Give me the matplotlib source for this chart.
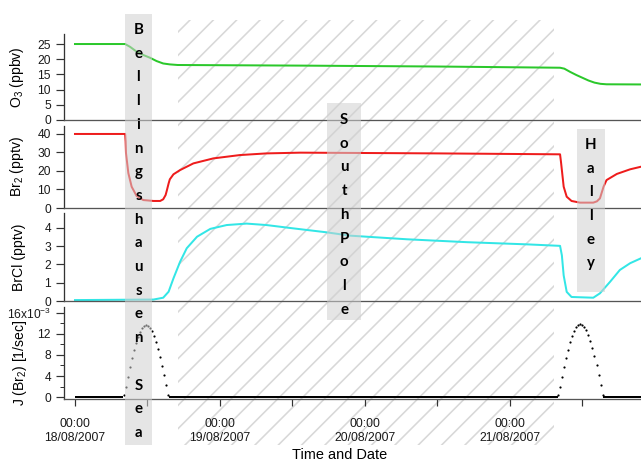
import matplotlib
matplotlib.use("Agg")
import matplotlib.pyplot as plt
import matplotlib.transforms as mtransforms
from matplotlib.patches import Rectangle
from matplotlib.ticker import MultipleLocator
import numpy as np

# ── Data (x = hours since 18/08/2007 00:00) ──────────────────────────────────
o3_t = [0, 8.3, 9.1, 10.2, 11.3, 12.4, 13.5, 14.6, 15.7, 17.0, 37.3, 60.0,
        80.3, 81.0, 82.0, 83.0, 84.0, 85.0, 86.0, 87.0, 88.0, 93.7]
o3 = [25.0, 25.0, 24.1, 22.5, 21.4, 20.5, 19.4, 18.6, 18.3, 18.1, 17.9, 17.6,
      17.2, 16.9, 15.8, 14.8, 13.9, 13.0, 12.3, 11.9, 11.75, 11.7]

br2_t = [0, 8.3, 8.38, 8.44, 8.83, 9.38, 10.2, 11.3, 13.0, 14.1, 14.6, 15.0,
         15.2, 15.5, 15.7, 16.3, 17.4, 19.6, 22.9, 27.3, 31.7, 37.3, 60.0,
         80.3, 80.45, 80.6, 80.9, 81.4, 82.2, 83.6, 85.8, 86.4, 86.9, 87.5,
         88.0, 89.7, 91.9, 93.7]
br2 = [40.0, 40.0, 36.0, 29.7, 18.9, 11.5, 6.5, 4.3, 3.8, 3.8, 4.7, 7.0,
       9.4, 13.3, 15.5, 18.2, 20.5, 24.1, 26.8, 28.6, 29.5, 29.9, 29.5,
       29.0, 25.0, 20.5, 11.5, 6.1, 3.8, 2.9, 2.9, 3.6, 5.2, 11.5,
       15.1, 18.4, 20.9, 22.3]

brcl_t = [0, 13.0, 14.6, 15.5, 16.3, 17.4, 18.5, 20.2, 22.4, 25.1, 28.4,
          31.7, 36.1, 41.7, 45.5, 55.0, 65.0, 75.0, 80.3, 80.6, 80.9, 81.4,
          82.2, 85.8, 86.9, 88.6, 90.2, 91.9, 93.7]
brcl = [0.05, 0.08, 0.18, 0.51, 1.24, 2.15, 2.89, 3.52, 3.95, 4.16, 4.24,
        4.16, 3.98, 3.76, 3.58, 3.38, 3.22, 3.10, 3.02, 2.5, 1.4, 0.5,
        0.22, 0.18, 0.42, 1.06, 1.7, 2.07, 2.34]

# J(Br2) in units of 1e-3 s^-1, sampled every 20 min during daylight
j_step = 1.0 / 3.0
j_day_start = [8.1, 80.0]
j_day1 = [0.3, 1.93, 3.83, 5.64, 7.35, 8.90, 10.29, 11.46, 12.40, 13.10, 13.53,
          13.70, 13.59, 13.21, 12.56, 11.66, 10.53, 9.19, 7.68, 5.99, 4.20,
          2.32, 0.39]
j_day2 = [0.3, 1.96, 3.89, 5.72, 7.46, 9.03, 10.44, 11.63, 12.58, 13.29, 13.73,
          13.90, 13.79, 13.40, 12.74, 11.83, 10.68, 9.32, 7.79, 6.08, 4.26,
          2.35, 0.4]
night_start = [0, 15.5, 87.4]
night_end = [8.0, 79.9, 93.7]

# Locations
region_names = ["Bellingshausen Sea", "SouthPole", "Halley"]
region_start = [8.3, 41.7, 83.1]
region_end = [12.7, 47.4, 87.7]
transit_start, transit_end = 17.0, 79.3   # hatched span

tick_hours = [0, 24, 48, 72]
tick_labels = ["00:00\n18/08/2007", "00:00\n19/08/2007",
               "00:00\n20/08/2007", "00:00\n21/08/2007"]

# ── Plot ─────────────────────────────────────────────────────────────────────
DPI = 70
PT = 72.0 / DPI  # points per pixel
W, H = 641, 464

plt.rcParams["font.family"] = ["Liberation Sans", "DejaVu Sans"]
plt.rcParams["hatch.linewidth"] = 1.6 * PT
plt.rcParams["mathtext.fontset"] = "custom"
plt.rcParams["mathtext.rm"] = "Liberation Sans"

fig = plt.figure(figsize=(W / DPI, H / DPI), dpi=DPI)


def add_panel(top, bottom):
    return fig.add_axes([64 / W, (H - bottom) / H, (W - 64) / W, (bottom - top) / H])


panels = [(34, 120), (126, 208), (213, 301), (307, 399)]
axes = [add_panel(t, b) for t, b in panels]
ax_o3, ax_br2, ax_brcl, ax_j = axes

fs = 12 * PT
lfs = 14 * PT
for ax in axes:
    ax.set_facecolor("none")
    ax.set_xlim(-1.82, 93.7)
    ax.spines["top"].set_visible(False)
    ax.spines["right"].set_visible(False)
    ax.spines["left"].set_color("#333333")
    ax.spines["left"].set_linewidth(1.3 * PT)
    ax.spines["bottom"].set_color("#555555")
    ax.spines["bottom"].set_linewidth(1.3 * PT)
    ax.tick_params(axis="y", direction="out", length=8 * PT, width=1.2 * PT,
                   colors="#333333", labelsize=fs, labelcolor="#1a1a1a",
                   pad=5 * PT)
    ax.tick_params(axis="y", which="minor", length=4 * PT, width=1.0 * PT,
                   colors="#333333")
    ax.yaxis.set_label_coords(-(64 - 26) / (W - 64), 0.5)
for ax in axes[:3]:
    ax.tick_params(axis="x", which="both", bottom=False, labelbottom=False)

ax_o3.plot(o3_t, o3, color="#2bc82b", lw=2 * PT)
ax_o3.set_ylim(0, 28.3)
ax_o3.yaxis.set_major_locator(MultipleLocator(5))
ax_o3.set_ylabel("O$_3$ (ppbv)", fontsize=lfs)

ax_br2.plot(br2_t, br2, color="#ee1c1c", lw=2 * PT)
ax_br2.set_ylim(0, 44.3)
ax_br2.yaxis.set_major_locator(MultipleLocator(10))
ax_br2.set_ylabel("Br$_2$ (pptv)", fontsize=lfs)

ax_brcl.plot(brcl_t, brcl, color="#33e6e6", lw=2 * PT)
ax_brcl.set_ylim(0, 4.82)
ax_brcl.yaxis.set_major_locator(MultipleLocator(1))
ax_brcl.set_ylabel("BrCl (pptv)", fontsize=lfs)

ax_j.hlines(np.zeros(len(night_start)), night_start, night_end, color="black", lw=2 * PT)
for start, vals in zip(j_day_start, [j_day1, j_day2]):
    t = start + j_step * np.arange(len(vals))
    ax_j.plot(t, vals, "o", color="black", markersize=2.2 * PT, markeredgewidth=0)
ax_j.set_ylim(-0.38, 17.14)
ax_j.yaxis.set_minor_locator(MultipleLocator(2))
ax_j.set_yticks([0, 4, 8, 12, 16])
ax_j.set_yticklabels(["0", "4", "8", "12", "16x10$^{-3}$"])
ax_j.set_ylabel("J (Br$_2$) [1/sec]", fontsize=lfs)
ax_j.yaxis.set_label_coords(-(64 - 29) / (W - 64), (399 - 363) / 92)
ax_j.set_xticks(tick_hours)
ax_j.set_xticklabels(tick_labels)
ax_j.xaxis.set_minor_locator(MultipleLocator(12))
ax_j.tick_params(axis="x", which="both", direction="out", length=7 * PT,
                 width=1.2 * PT, colors="#333333", labelsize=12.3 * PT,
                 labelcolor="#1a1a1a", pad=12 * PT)
ax_j.set_xlabel("Time and Date", fontsize=14.5 * PT)
ax_j.xaxis.set_label_coords((340 - 64) / (W - 64), -(448 - 399) / 92)

# ── Location bands (x in data hours, y in figure pixels) ────────────────────
trans = mtransforms.blended_transform_factory(ax_j.transData, fig.transFigure)

fig.add_artist(Rectangle((transit_start, (H - 445) / H), transit_end - transit_start,
                         425 / H, transform=trans, facecolor="none",
                         edgecolor="#d8d8d8", linewidth=0, hatch="/", zorder=-1))

box_px = [(14, 445, 30), (103, 320, 120), (129, 292, 145)]
step = 23.7
for name, t0, t1, (ytop, ybot, yfirst) in zip(region_names, region_start,
                                              region_end, box_px):
    fig.add_artist(Rectangle((t0, (H - ybot) / H), t1 - t0, (ybot - ytop) / H,
                             transform=trans, facecolor="#d0d0d0", alpha=0.55,
                             linewidth=0, zorder=5))
    xc = 0.5 * (t0 + t1)
    for i, ch in enumerate(name):
        fig.text(xc, (H - (yfirst + i * step)) / H, ch, transform=trans,
                 ha="center", va="center", fontsize=15 * PT, fontweight="bold",
                 family="Lato", color="black", zorder=6)

fig.savefig("out.png", dpi=DPI, facecolor="white")
